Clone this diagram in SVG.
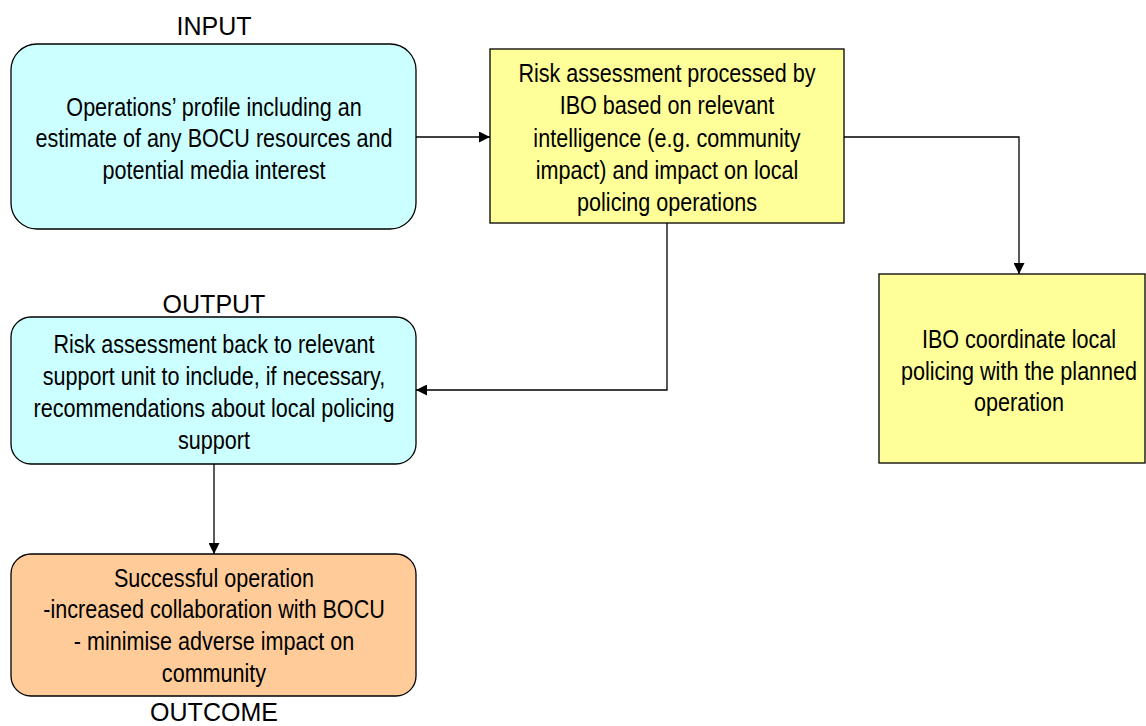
<svg xmlns="http://www.w3.org/2000/svg" width="1146" height="726" viewBox="0 0 1146 726">
  <style>
    .box { stroke: #000; stroke-width: 1.3; }
    .cyan { fill: #CCFFFF; }
    .yellow { fill: #FFFF99; }
    .peach { fill: #FFCC99; }
    /* condensed body text: Liberation Sans squeezed horizontally via transform */
    .t { font-family: "Liberation Sans", Arial, sans-serif; font-size: 26px; fill: #000; text-anchor: middle; }
    .h { font-family: "Liberation Sans", Arial, sans-serif; font-size: 25px; fill: #000; text-anchor: middle; }
    .conn { fill: none; stroke: #000; stroke-width: 1.3; }
  </style>
  <defs>
    <marker id="arrow" viewBox="0 0 10 10" refX="10" refY="5" markerWidth="11" markerHeight="11" markerUnits="userSpaceOnUse" orient="auto">
      <path d="M0,0 L10,5 L0,10 Z" fill="#000"/>
    </marker>
  </defs>
  <rect width="1146" height="726" fill="#fff"/>

  <g id="connectors">
    <path class="conn" d="M416,137 H490" marker-end="url(#arrow)"/>
    <path class="conn" d="M844,137 H1019 V274" marker-end="url(#arrow)"/>
    <path class="conn" d="M667,223 V390 H416" marker-end="url(#arrow)"/>
    <path class="conn" d="M214,464 V554" marker-end="url(#arrow)"/>
  </g>

  <g id="input">
    <text class="h" x="214" y="35">INPUT</text>
    <rect class="box cyan" x="11" y="44" width="405" height="185" rx="26" ry="26"/>
    <text class="t" transform="translate(214 116) scale(0.83 1)">Operations’ profile including an</text>
    <text class="t" transform="translate(214 147) scale(0.83 1)">estimate of any BOCU resources and</text>
    <text class="t" transform="translate(214 179) scale(0.83 1)">potential media interest</text>
  </g>

  <g id="risk-assessment">
    <rect class="box yellow" x="490" y="49" width="354" height="174"/>
    <text class="t" transform="translate(667 82) scale(0.83 1)">Risk assessment processed by</text>
    <text class="t" transform="translate(667 114) scale(0.83 1)">IBO based on relevant</text>
    <text class="t" transform="translate(667 147) scale(0.83 1)">intelligence (e.g. community</text>
    <text class="t" transform="translate(667 179) scale(0.83 1)">impact) and impact on local</text>
    <text class="t" transform="translate(667 211) scale(0.83 1)">policing operations</text>
  </g>

  <g id="ibo-coordinate">
    <rect class="box yellow" x="879" y="274" width="266" height="189"/>
    <text class="t" transform="translate(1019 348) scale(0.83 1)">IBO coordinate local</text>
    <text class="t" transform="translate(1019 380) scale(0.83 1)">policing with the planned</text>
    <text class="t" transform="translate(1019 411) scale(0.83 1)">operation</text>
  </g>

  <g id="output">
    <text class="h" x="214" y="313">OUTPUT</text>
    <rect class="box cyan" x="11" y="317" width="405" height="147" rx="20" ry="20"/>
    <text class="t" transform="translate(214 353) scale(0.83 1)">Risk assessment back to relevant</text>
    <text class="t" transform="translate(214 385) scale(0.83 1)">support unit to include, if necessary,</text>
    <text class="t" transform="translate(214 417) scale(0.83 1)">recommendations about local policing</text>
    <text class="t" transform="translate(214 449) scale(0.83 1)">support</text>
  </g>

  <g id="outcome">
    <rect class="box peach" x="11" y="554" width="405" height="142" rx="20" ry="20"/>
    <text class="t" transform="translate(214 587) scale(0.83 1)">Successful operation</text>
    <text class="t" transform="translate(214 618) scale(0.83 1)">-increased collaboration with BOCU</text>
    <text class="t" transform="translate(214 650) scale(0.83 1)">- minimise adverse impact on</text>
    <text class="t" transform="translate(214 682) scale(0.83 1)">community</text>
    <text class="h" x="214" y="721">OUTCOME</text>
  </g>
</svg>
